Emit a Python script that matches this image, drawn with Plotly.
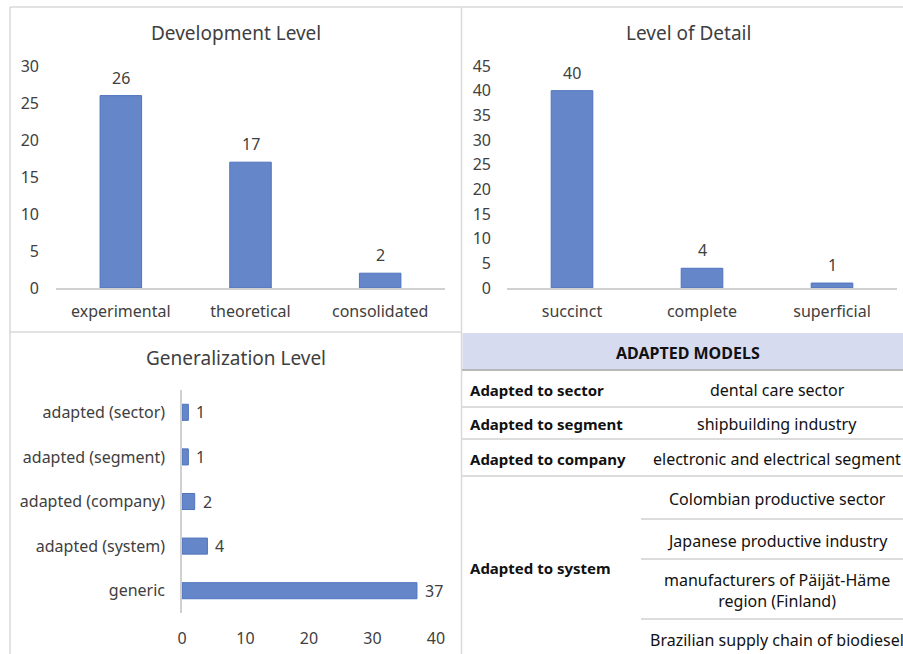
import plotly.graph_objects as go

W, H = 903, 654

# ---- data ----
dev_cats = ["experimental", "theoretical", "consolidated"]
dev_vals = [26, 17, 2]
det_cats = ["succinct", "complete", "superficial"]
det_vals = [40, 4, 1]
gen_cats = ["adapted (sector)", "adapted (segment)", "adapted (company)", "adapted (system)", "generic"]
gen_vals = [1, 1, 2, 4, 37]

table_header = "ADAPTED MODELS"
table_groups = ["Adapted to sector", "Adapted to segment", "Adapted to company", "Adapted to system"]
table_items = [
    ["dental care sector"],
    ["shipbuilding industry"],
    ["electronic and electrical segment"],
    ["Colombian productive sector", "Japanese productive industry",
     "manufacturers of Päijät-Häme<br>region (Finland)", "Brazilian supply chain of biodiesel"],
]

FONT = "Noto Sans"
TXT = "#404040"
BAR = "#6586C8"
EDGE = "#4F73BE"
FS = 16


def px(x):
    return x / W


def py(y):
    return 1 - y / H


fig = go.Figure()

for cats, vals, xa, ya in [(dev_cats, dev_vals, "x", "y"), (det_cats, det_vals, "x2", "y2")]:
    fig.add_trace(go.Bar(x=cats, y=vals, width=0.32, marker=dict(color=BAR, line=dict(color=EDGE, width=1)),
                         xaxis=xa, yaxis=ya, hoverinfo="x+y"))
    for c, v in zip(cats, vals):
        fig.add_annotation(x=c, y=v, xref=xa, yref=ya, text=str(v), showarrow=False, yanchor="bottom",
                           xanchor="center", yshift=5, font=dict(family=FONT, size=FS, color=TXT))

fig.add_trace(go.Bar(y=gen_cats, x=gen_vals, width=0.36, orientation="h",
                     marker=dict(color=BAR, line=dict(color=EDGE, width=1)),
                     xaxis="x3", yaxis="y3", hoverinfo="x+y"))
for c, v in zip(gen_cats, gen_vals):
    fig.add_annotation(x=v, y=c, xref="x3", yref="y3", text=str(v), showarrow=False, yanchor="middle",
                       xanchor="left", xshift=6, font=dict(family=FONT, size=FS, color=TXT))

tickf = dict(family=FONT, size=FS, color=TXT)
common_cat = dict(showgrid=False, zeroline=False, showline=True, linecolor="#D0D0D0", linewidth=1.5,
                  ticks="", tickfont=tickf, fixedrange=True, automargin=False)
common_val = dict(showgrid=False, zeroline=False, showline=False, ticks="", tickfont=tickf, fixedrange=True,
                  automargin=False)

fig.update_layout(
    width=W, height=H, margin=dict(l=0, r=0, t=0, b=0, autoexpand=False),
    paper_bgcolor="white", plot_bgcolor="white", showlegend=False,
    font=dict(family=FONT, color=TXT),
    xaxis=dict(domain=[px(56), px(445)], anchor="y", ticklabelstandoff=8, **common_cat),
    yaxis=dict(domain=[py(288), py(66)], anchor="x", range=[0, 30], dtick=5, ticklabelstandoff=16, **common_val),
    xaxis2=dict(domain=[px(507), px(897)], anchor="y2", ticklabelstandoff=8, **common_cat),
    yaxis2=dict(domain=[py(288), py(66)], anchor="x2", range=[0, 45], dtick=5, ticklabelstandoff=15, **common_val),
    xaxis3=dict(domain=[px(182), px(436)], anchor="y3", range=[0, 40], dtick=10, ticklabelstandoff=14, **common_val),
    yaxis3=dict(domain=[py(613), py(390)], anchor="x3", autorange="reversed", ticklabelstandoff=12, **common_cat),
)

# titles
for txt, x, y in [("Development Level", 236, 33), ("Level of Detail", 688, 33), ("Generalization Level", 236, 358)]:
    fig.add_annotation(text=txt, x=px(x), y=py(y), xref="paper", yref="paper", showarrow=False,
                       font=dict(family=FONT, size=19, color=TXT), xanchor="center", yanchor="middle")

shapes = []
LG = "#D9D9D9"


def hline(x0, x1, y, color=LG, w=1.5):
    shapes.append(dict(type="line", xref="paper", yref="paper", x0=px(x0), x1=px(x1), y0=py(y), y1=py(y),
                       line=dict(color=color, width=w)))


def vline(x, y0, y1, color=LG, w=1.5):
    shapes.append(dict(type="line", xref="paper", yref="paper", x0=px(x), x1=px(x), y0=py(y0), y1=py(y1),
                       line=dict(color=color, width=w)))


# panel borders
hline(10, 903, 7)
vline(10, 7, 654)
vline(461.5, 7, 654)
hline(10, 461, 332)

# table header band
shapes.append(dict(type="rect", xref="paper", yref="paper", x0=px(462.5), x1=px(903), y0=py(369), y1=py(333),
                   fillcolor="#D7DBF0", line=dict(width=0), layer="below"))
hline(462, 903, 370, color="#A0A0A0", w=1.5)
fig.add_annotation(text="<b>" + table_header + "</b>", x=px(688), y=py(353), xref="paper", yref="paper",
                   showarrow=False, xanchor="center", yanchor="middle",
                   font=dict(family=FONT, size=16, color="#111111"))

# table rows
row_lines = [407, 439, 476]
for y in row_lines:
    hline(462, 903, y, color="#DCDCDC", w=2)
sub_lines = [519, 559, 619]
for y in sub_lines:
    hline(641, 903, y, color="#DCDCDC", w=2)

group_y = [390, 424, 459, 568]
item_y = [[390], [424], [459], [499, 541, 590, 640]]
for g, gy, items, iys in zip(table_groups, group_y, table_items, item_y):
    fig.add_annotation(text="<b>" + g + "</b>", x=px(468), y=py(gy), xref="paper", yref="paper",
                       showarrow=False, xanchor="left", yanchor="middle",
                       font=dict(family=FONT, size=15, color="#111111"))
    for it, iy in zip(items, iys):
        fig.add_annotation(text=it, x=px(777), y=py(iy), xref="paper", yref="paper", showarrow=False,
                           xanchor="center", yanchor="middle", align="center",
                           font=dict(family=FONT, size=16, color="#111111"))

fig.update_layout(shapes=shapes)
fig.write_html("out.html")
